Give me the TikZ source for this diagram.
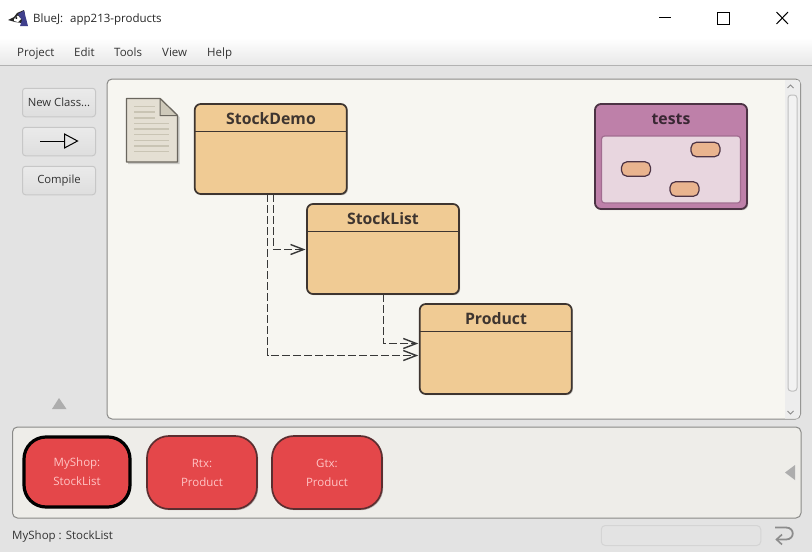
\documentclass[tikz,border=0pt]{standalone}
\usepackage{fontspec}
\setmainfont{Open Sans}
\usetikzlibrary{arrows.meta,shadows,positioning}
\definecolor{winbg}{HTML}{E3E3E3}
\definecolor{canvasbg}{HTML}{F7F6F1}
\definecolor{benchbg}{HTML}{EEEDE9}
\definecolor{panelline}{HTML}{8A8A88}
\definecolor{classfill}{HTML}{F0CB94}
\definecolor{classline}{HTML}{3E3530}
\definecolor{pkgfill}{HTML}{BE80A9}
\definecolor{pkginner}{HTML}{E8D6DF}
\definecolor{minifill}{HTML}{E9B48F}
\definecolor{objfill}{HTML}{E4474A}
\definecolor{objline}{HTML}{5C2E30}
\definecolor{objtext}{HTML}{FFC4C4}
\definecolor{uitext}{HTML}{333333}
\definecolor{notefill}{HTML}{E4DFD3}
\definecolor{noteline}{HTML}{6A665E}
\definecolor{noterule}{HTML}{C9C4B4}
\tikzset{
  softshadow/.style={drop shadow={shadow xshift=1.2pt,shadow yshift=-1.2pt,opacity=.22,fill=black}},
  panel/.style={draw=panelline,line width=1pt,rounded corners=5pt},
  classbox/.style={draw=classline,fill=classfill,line width=1.7pt,rounded corners=6pt,inner sep=0pt,outer sep=0pt,minimum width=152pt,minimum height=90pt,softshadow},
  classname/.style={font=\fontsize{15.8}{20}\selectfont\bfseries,text=classline,inner sep=0pt,anchor=base},
  uibutton/.style={draw=black!22,top color=white!92!black,bottom color=black!13,line width=1pt,rounded corners=3pt,inner sep=0pt,outer sep=0pt,minimum width=73pt,minimum height=28.5pt,font=\fontsize{11.3}{14}\selectfont,text=uitext},
  objbox/.style={draw=objline,fill=objfill,line width=1.7pt,rounded corners=22pt,inner sep=0pt,outer sep=0pt,minimum width=110pt,minimum height=73pt,align=center,font=\fontsize{11.5}{19}\selectfont,text=objtext,softshadow},
  menutext/.style={font=\fontsize{11.5}{14}\selectfont,text=uitext,inner sep=0pt,anchor=base west},
  depend/.style={draw=black!78,line width=1.5pt,dash pattern=on 8pt off 3pt,-{Straight Barb[length=13pt,width=10pt,line width=1.4pt]}},
  mini/.style={draw=black!60!pkgfill,fill=minifill,line width=1.2pt,rounded corners=5.5pt,inner sep=0pt,outer sep=0pt,minimum width=29pt,minimum height=14.5pt},
}
\begin{document}
\begin{tikzpicture}[x=1pt,y=-1pt]
\useasboundingbox (0,0) rectangle (812,552);
% window
\fill[winbg] (0,0) rectangle (812,552);
\fill[white] (0,0) rectangle (812,38);
\shade[top color=white,bottom color=black!9,draw=none] (0,38) rectangle (812,65);
\draw[black!30,line width=1pt] (0,65.5) -- (812,65.5);
% title bar icon
\fill[black!85] (8,20) -- (14,17) -- (17,13) -- (24,10) -- (25,14) -- (22,23) -- (15,22) -- cycle;
\fill[blue!40!black!75!white] (18,14) -- (24,10.5) -- (28,26) -- (20,26) -- (22,20) -- cycle;
\fill[white] (14,19) -- (18,15.5) -- (21,19) -- (18,22) -- (14,21) -- cycle;
\fill[black] (15,18) -- (17,17) -- (17,19) -- cycle;
\node[inner sep=0pt,anchor=base west,font=\fontsize{11.5}{14}\selectfont,text=black!85] (title) at (33,22) {BlueJ:\hspace{4pt} app213-products};
\draw[black,line width=1pt] (659,17.5) -- (671,17.5);
\draw[black,line width=1pt] (717.5,12.5) rectangle (729,24);
\draw[black,line width=1pt] (776.5,12) -- (788,24) (788,12) -- (776.5,24);
% menu
\node[menutext] (m1) at (17,56) {Project};
\node[menutext] (m2) at (74,56) {Edit};
\node[menutext] (m3) at (114,56) {Tools};
\node[menutext] (m4) at (162,56) {View};
\node[menutext] (m5) at (207,56) {Help};
% left buttons
\node[uibutton] (newclass) at (59,102.5) {New Class...};
\node[uibutton] (arrowbtn) at (59,141.5) {};
\node[uibutton] (compile) at (59,180.5) {\raisebox{-1pt}{Compile}};
\draw[black,line width=1pt] (40,141) -- (64.5,141);
\draw[black,line width=1pt] (64.5,134) -- (77.5,141) -- (64.5,148) -- cycle;
\fill[black!32] (59,398) -- (66.5,409) -- (52,409) -- cycle;
% canvas
\draw[panel,fill=canvasbg] (107,79) rectangle (800.5,419);
\fill[black!7] (785,80) -- (797,80) to[out=0,in=90] (800,83) -- (800,415) to[out=90,in=0] (797,418.5) -- (785,418.5) -- cycle;
\draw[black!45,line width=.8pt] (787.5,88) -- (790.5,85) -- (793.5,88);
\draw[black!45,line width=.8pt] (787.5,411) -- (790.5,414) -- (793.5,411);
\draw[black!25,fill=white!95!black,line width=1pt,rounded corners=3pt] (788,95) rectangle (797,391);
% readme note
\fill[black,opacity=.18] (128,100) -- (162,100) -- (179.5,117) -- (179.5,164) -- (128,164) -- cycle;
\draw[noteline,fill=notefill,line width=1.4pt,line join=round] (126.5,98.5) -- (160,98.5) -- (177.5,115.5) -- (177.5,162) -- (126.5,162) -- cycle;
\draw[noteline,fill=noterule!80!notefill,line width=1pt,line join=round] (160,98.5) -- (160,115.5) -- (177.5,115.5) -- cycle;
\draw[noterule,line width=1.2pt] (134,106.5) -- (155,106.5) (134,112) -- (155,112) (134,118) -- (155,118)
  (134,123.5) -- (169,123.5) (134,129) -- (169,129) (134,134.5) -- (169,134.5) (134,140.5) -- (169,140.5) (134,146) -- (169,146) (134,151.5) -- (169,151.5);
% classes
\node[classbox] (sd) at (270.75,149) {};
\draw[classline,line width=1.5pt] (sd.west |- 0,131.5) -- (sd.east |- 0,131.5);
\node[classname] (sdname) at (271,124) {StockDemo};
\node[classbox] (sl) at (383,249) {};
\draw[classline,line width=1.5pt] (sl.west |- 0,231.5) -- (sl.east |- 0,231.5);
\node[classname] (slname) at (383,224) {StockList};
\node[classbox] (pd) at (495.75,349) {};
\draw[classline,line width=1.5pt] (pd.west |- 0,331.5) -- (pd.east |- 0,331.5);
\node[classname] (pdname) at (496,324) {Product};
% dependencies
\draw[depend,shorten >=1.5pt] ([xshift=2.75pt]sd.south) |- ([yshift=-.5pt]sl.west);
\draw[depend,shorten >=1.5pt] ([xshift=-3.25pt]sd.south) |- ([yshift=-6.5pt]pd.west);
\draw[depend,shorten >=1.5pt] ([xshift=.5pt]sl.south) |- ([yshift=5.5pt]pd.west);
% tests package
\node[draw=black!60!pkgfill,fill=pkgfill,line width=1.8pt,rounded corners=6pt,inner sep=0pt,outer sep=0pt,minimum width=152pt,minimum height=105pt,softshadow] (tests) at (671,156.5) {};
\node[classname,text=black!70!pkgfill] (testsname) at (671,124) {tests};
\node[draw=pkgfill!85!black,fill=pkginner,line width=1.2pt,rounded corners=3pt,inner sep=0pt,outer sep=0pt,minimum width=139pt,minimum height=67pt] (inner) at (671,169.5) {};
\node[mini] (m6) at (705.5,149.5) {};
\node[mini] (m7) at (636,169) {};
\node[mini] (m8) at (684.5,189) {};
% object bench
\draw[panel,fill=benchbg] (12.5,427) rectangle (801,518);
\node[objbox,draw=black,line width=3.2pt,minimum width=106pt,minimum height=70pt] (o1) at (77,472) {MyShop:\\StockList};
\node[objbox] (o2) at (202,472.5) {Rtx:\\Product};
\node[objbox] (o3) at (327,472.5) {Gtx:\\Product};
\fill[black!32] (785,472.5) -- (795,465) -- (795,480) -- cycle;
% status bar
\node[menutext] (status) at (12,539) {MyShop : StockList};
\node[draw=black!17,fill=winbg,line width=1pt,rounded corners=4pt,inner sep=0pt,minimum width=159.5pt,minimum height=20pt] (progress) at (681,535.5) {};
\draw[black!45,line width=1.8pt] (775,527.5) -- (786,527.5) .. controls (795,527.5) and (795,539.5) .. (786,539.5) -- (778,539.5);
\draw[black!45,line width=1.6pt] (782,534.5) -- (776.5,539.5) -- (782,544.5);
\end{tikzpicture}
\end{document}
